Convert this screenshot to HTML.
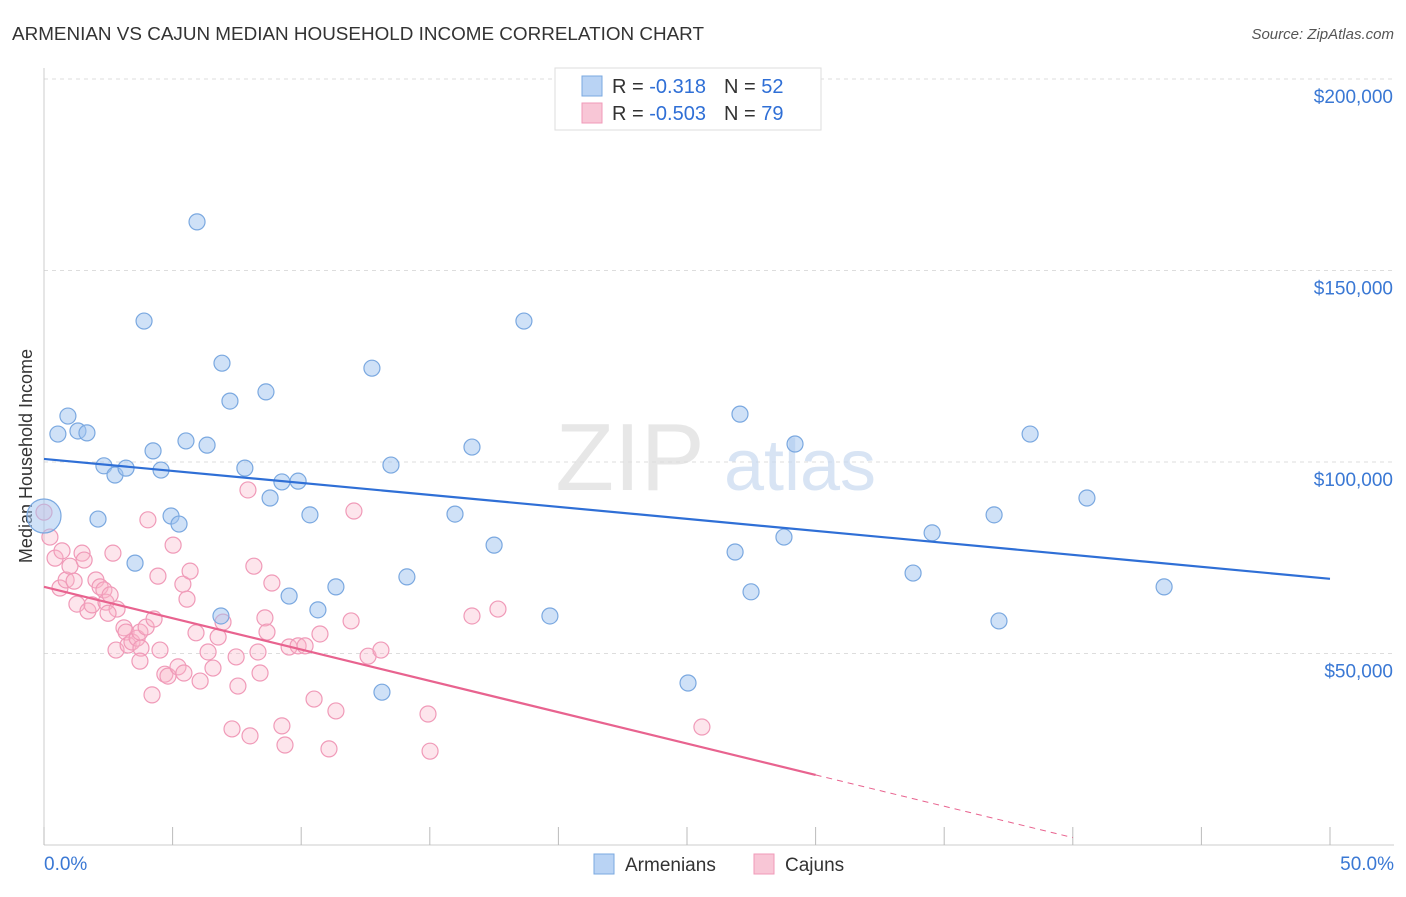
<!DOCTYPE html>
<html><head><meta charset="utf-8">
<style>
body{margin:0;background:#fff;font-family:"Liberation Sans",sans-serif;}
svg text{font-family:"Liberation Sans",sans-serif;}
</style></head>
<body>
<svg id="chart" width="1406" height="892" xmlns="http://www.w3.org/2000/svg">
<text x="12" y="40" font-size="18" fill="#333" textLength="692" lengthAdjust="spacingAndGlyphs">ARMENIAN VS CAJUN MEDIAN HOUSEHOLD INCOME CORRELATION CHART</text>
<text x="1394" y="39" font-size="15" fill="#555" font-style="italic" text-anchor="end">Source: ZipAtlas.com</text>
<text transform="translate(32,456) rotate(-90)" font-size="18" fill="#333" text-anchor="middle">Median Household Income</text>
<g id="grid"></g>
<g>
<text x="630" y="490" font-size="96" fill="#ddd" font-family="Liberation Serif" text-anchor="middle" opacity="0.7">ZIP</text>
<text x="800" y="490" font-size="72" fill="#c8daf0" text-anchor="middle" opacity="0.7">atlas</text>
</g>
<g id="pts"></g>
<g id="lines"></g>
<g>
<rect x="555" y="68" width="266" height="62" fill="#fff" stroke="#ddd"/>
<rect x="582" y="76" width="20" height="20" fill="#b9d3f4" stroke="#7aa8e0"/>
<text x="612" y="93" font-size="20" fill="#333">R = <tspan fill="#2f6fd6"> -0.318</tspan><tspan dx="18">N = </tspan><tspan fill="#2f6fd6">52</tspan></text>
<rect x="582" y="103" width="20" height="20" fill="#f8c6d6" stroke="#f09ab8"/>
<text x="612" y="120" font-size="20" fill="#333">R = <tspan fill="#2f6fd6">-0.503</tspan><tspan dx="18">N = </tspan><tspan fill="#2f6fd6">79</tspan></text>
</g>
<g>
<rect x="594" y="854" width="20" height="20" fill="#b9d3f4" stroke="#7aa8e0"/>
<text x="625" y="871" font-size="19" fill="#333">Armenians</text>
<rect x="754" y="854" width="20" height="20" fill="#f8c6d6" stroke="#f09ab8"/>
<text x="785" y="871" font-size="19" fill="#333">Cajuns</text>
</g>
</svg>
<script>
const yTicks=[50,100,150,200];
const yTickLabels=["$50,000","$100,000","$150,000","$200,000"];
const xTicks=[0,5,10,15,20,25,30,35,40,45,50];
const blueX=[0,0.54,0.93,1.32,1.67,2.10,2.33,2.76,3.19,3.54,3.89,4.24,4.55,4.94,5.25,5.52,5.95,6.34,6.92,6.88,7.23,7.81,8.63,8.79,9.25,9.88,10.34,10.65,11.35,9.53,12.75,13.49,13.14,14.11,15.98,16.64,17.50,18.66,19.67,25.04,26.87,27.06,27.49,28.77,29.20,33.79,34.53,37.13,36.94,38.34,40.55,43.55];
const blueY=[85.9,107.3,112.0,108.1,107.6,85.1,99.0,96.6,98.4,73.6,136.8,102.9,97.9,85.9,83.8,105.5,162.7,104.4,125.8,59.8,115.9,98.4,118.3,90.6,94.8,95.0,86.2,61.4,67.4,65.0,124.5,99.2,39.9,70.0,86.4,103.9,78.3,136.8,59.8,42.3,76.5,112.5,66.1,80.4,104.7,71.0,81.5,58.5,86.2,107.3,90.6,67.4];
const pinkX=[0,.23,.43,.62,.70,.86,1.01,1.17,1.28,1.48,1.56,1.71,1.87,2.02,2.18,2.33,2.41,2.57,2.68,2.84,2.80,3.11,3.19,3.27,3.42,3.62,3.73,3.77,3.97,4.04,4.20,4.28,4.43,4.51,4.70,4.82,5.02,5.21,5.40,5.44,5.56,5.68,5.91,6.07,6.38,6.57,6.77,6.96,7.31,7.47,7.54,7.93,8.01,8.16,8.32,8.40,8.59,8.67,8.86,9.25,9.37,9.53,9.88,10.15,10.50,10.73,11.08,11.35,11.94,12.05,12.60,13.10,14.93,15.01,16.64,17.65,25.58,2.49,3.73];
const pinkY=[86.9,80.4,74.9,67.1,76.8,69.2,72.8,68.9,62.9,76.2,74.4,61.1,62.7,69.2,67.4,66.6,63.4,65.3,76.2,61.6,50.9,56.7,55.6,52.2,53.0,54.0,55.6,51.4,56.9,84.9,39.2,59.0,70.2,50.9,44.6,44.1,78.3,46.5,68.1,44.9,64.2,71.5,55.4,42.8,50.4,46.2,54.3,58.2,30.3,49.1,41.5,92.7,28.5,72.8,50.4,44.9,59.3,55.6,68.4,31.1,26.1,51.7,52.0,52.0,38.1,55.1,25.1,35.0,58.5,87.2,49.3,50.9,34.2,24.5,59.8,61.6,30.8,60.5,48.0];
const blueTrend=[100.8,69.5];
const pinkTrend=[67.4,18.3];
const pinkSolidEnd=30;
const pinkDashEnd=40;

const X=v=>44+v*25.72;
const Y=v=>845-v*3.83;
const NS="http://www.w3.org/2000/svg";
function mk(tag,attrs,parent){const e=document.createElementNS(NS,tag);for(const k in attrs)e.setAttribute(k,attrs[k]);parent.appendChild(e);return e;}
const grid=document.getElementById('grid');
yTicks.forEach((t,i)=>{
 const l=mk('line',{x1:44,x2:1394,y1:Y(t),y2:Y(t),stroke:'#ddd','stroke-dasharray':'4,4'},grid);
 
 
 const tx=mk('text',{x:1393,y:Y(t)+24,'font-size':19,fill:'#3a78d4','text-anchor':'end'},grid);
 tx.textContent=yTickLabels[i];
 
 
});
const ax=mk('line',{x1:44,x2:1394,y1:845,y2:845,stroke:'#ccc'},grid);


const ay=mk('line',{x1:44,x2:44,y1:68,y2:845,stroke:'#ccc'},grid);


xTicks.forEach(t=>{
 const l=mk('line',{x1:X(t),x2:X(t),y1:827,y2:845,stroke:'#bbb'},grid);
 
 
});
const xl0=mk('text',{x:44,y:870,'font-size':19,fill:'#3a78d4'},grid);xl0.textContent="0.0%";


const xl1=mk('text',{x:1394,y:870,'font-size':19,fill:'#3a78d4','text-anchor':'end'},grid);xl1.textContent="50.0%";



const pts=document.getElementById('pts');
pinkX.forEach((x,i)=>{
 const c=mk('circle',{cx:X(x),cy:Y(pinkY[i]),r:8,fill:'rgba(248,180,200,0.35)',stroke:'#f09ab8','stroke-width':1.2},pts);
 
 
});
blueX.forEach((x,i)=>{
 const c=mk('circle',{cx:X(x),cy:Y(blueY[i]),r:i==0?17:8,fill:'rgba(160,196,240,0.5)',stroke:'#7aa8e0','stroke-width':1.2},pts);
 
 
});
const lines=document.getElementById('lines');
const bl=mk('line',{x1:X(0),y1:Y(blueTrend[0]),x2:X(50),y2:Y(blueTrend[1]),stroke:'#2f6fd6','stroke-width':2.2},lines);


const slope=(pinkTrend[1]-pinkTrend[0])/pinkSolidEnd;
const pl=mk('line',{x1:X(0),y1:Y(pinkTrend[0]),x2:X(pinkSolidEnd),y2:Y(pinkTrend[1]),stroke:'#e8638f','stroke-width':2.2},lines);


const pd=mk('line',{x1:X(pinkSolidEnd),y1:Y(pinkTrend[1]),x2:X(pinkDashEnd),y2:Y(pinkTrend[0]+slope*pinkDashEnd),stroke:'#e8638f','stroke-width':1,'stroke-dasharray':'6,5'},lines);


</script>
</body></html>
